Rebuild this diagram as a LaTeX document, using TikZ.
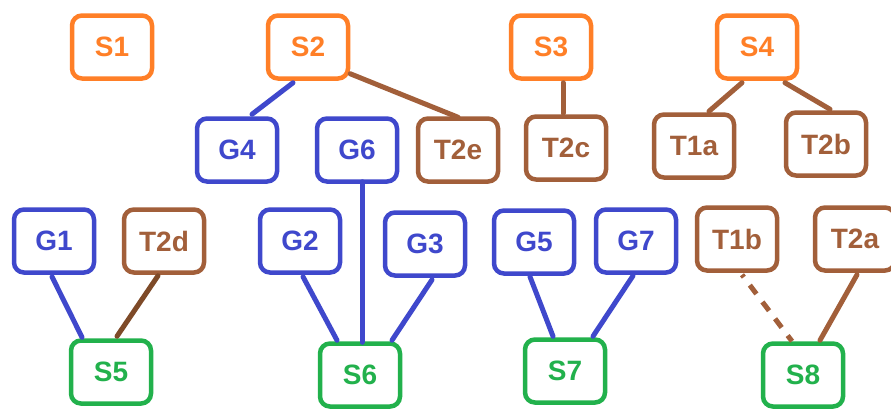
\documentclass[tikz,border=0pt]{standalone}
\usepackage{fontspec}
\setmainfont{Liberation Sans}
\definecolor{cOrange}{HTML}{FF7F27}
\definecolor{cBlue}{HTML}{3F48CC}
\definecolor{cBrown}{HTML}{A25F3A}
\definecolor{cDarkBrown}{HTML}{7E4A28}
\definecolor{cGreen}{HTML}{22B14C}
\tikzset{
  box/.style={draw, rounded corners=10pt, line width=4.5pt, minimum width=80pt, minimum height=63pt, inner sep=0pt, font=\fontsize{28}{30}\selectfont\bfseries, fill=white},
  sbox/.style={box, draw=cOrange, text=cOrange},
  gbox/.style={box, draw=cBlue, text=cBlue},
  tbox/.style={box, draw=cBrown, text=cBrown},
  ebox/.style={box, draw=cGreen, text=cGreen},
  link/.style={line width=5pt, line cap=round},
  blink/.style={link, cBlue},
  tlink/.style={link, cBrown},
}
\begin{document}
\begin{tikzpicture}[x=1pt,y=-1pt]
\clip (0,0) rectangle (891,408);
\fill[white] (0,0) rectangle (891,408);
% nodes
\node[sbox] (S1) at (112,47) {S1};
\node[sbox] (S2) at (308,47) {S2};
\node[sbox] (S3) at (551,47) {S3};
\node[sbox] (S4) at (757,47) {S4};
\node[gbox] (G4) at (237,150) {G4};
\node[gbox] (G6) at (357,150) {G6};
\node[tbox] (T2e) at (458,150) {T2e};
\node[tbox] (T2c) at (566,148) {T2c};
\node[tbox] (T1a) at (694,146) {T1a};
\node[tbox] (T2b) at (826,144) {T2b};
\node[gbox] (G1) at (54,241) {G1};
\node[tbox] (T2d) at (164,241) {T2d};
\node[gbox] (G2) at (300,241) {G2};
\node[gbox] (G3) at (425,244) {G3};
\node[gbox] (G5) at (534,242) {G5};
\node[gbox] (G7) at (636,241) {G7};
\node[tbox] (T1b) at (737,239) {T1b};
\node[tbox] (T2a) at (855,239) {T2a};
\node[ebox] (S5) at (111,372) {S5};
\node[ebox] (S6) at (360,375) {S6};
\node[ebox] (S7) at (565,371) {S7};
\node[ebox] (S8) at (803,375) {S8};
% connectors
\draw[blink] ([xshift=-15pt,yshift=-2pt]S2.south) -- ([xshift=15pt,yshift=2pt]G4.north);
\draw[tlink] ([yshift=7pt]S2.south east) -- ([yshift=-1pt]T2e.north);
\draw[blink] ([xshift=5pt,yshift=2pt]G6.south) -- ([xshift=2pt,yshift=-1pt]S6.north);
\draw[tlink] ([xshift=12pt,yshift=-2pt]S3.south) -- ([xshift=-3pt,yshift=1pt]T2c.north);
\draw[tlink] ([xshift=-15pt,yshift=-2pt]S4.south) -- ([xshift=15pt,yshift=1pt]T1a.north);
\draw[tlink] ([xshift=28pt,yshift=-2pt]S4.south) -- ([xshift=4pt,yshift=1pt]T2b.north);
\draw[blink] ([xshift=-2pt,yshift=-2pt]G1.south) -- ([xshift=-29pt,yshift=1pt]S5.north);
\draw[link, cDarkBrown] ([xshift=-6pt,yshift=-1pt]T2d.south) -- ([xshift=6pt,yshift=2pt]S5.north);
\draw[blink] ([xshift=3pt,yshift=-2pt]G2.south) -- ([xshift=-23pt,yshift=1pt]S6.north);
\draw[blink] ([xshift=7pt,yshift=-2pt]G3.south) -- ([xshift=32pt,yshift=1pt]S6.north);
\draw[blink] ([xshift=-4pt,yshift=-1pt]G5.south) -- ([xshift=-12pt,yshift=1pt]S7.north);
\draw[blink] ([xshift=-3pt,yshift=-1pt]G7.south) -- ([xshift=28pt,yshift=1pt]S7.north);
\draw[link, cBrown, line cap=butt, dash pattern=on 11pt off 10pt, dash phase=8pt] ([xshift=5pt,yshift=-2pt]T1b.south) -- ([xshift=-11pt,yshift=0pt]S8.north);
\draw[tlink] ([xshift=2pt,yshift=-2pt]T2a.south) -- ([xshift=17pt,yshift=1pt]S8.north);
\end{tikzpicture}
\end{document}
